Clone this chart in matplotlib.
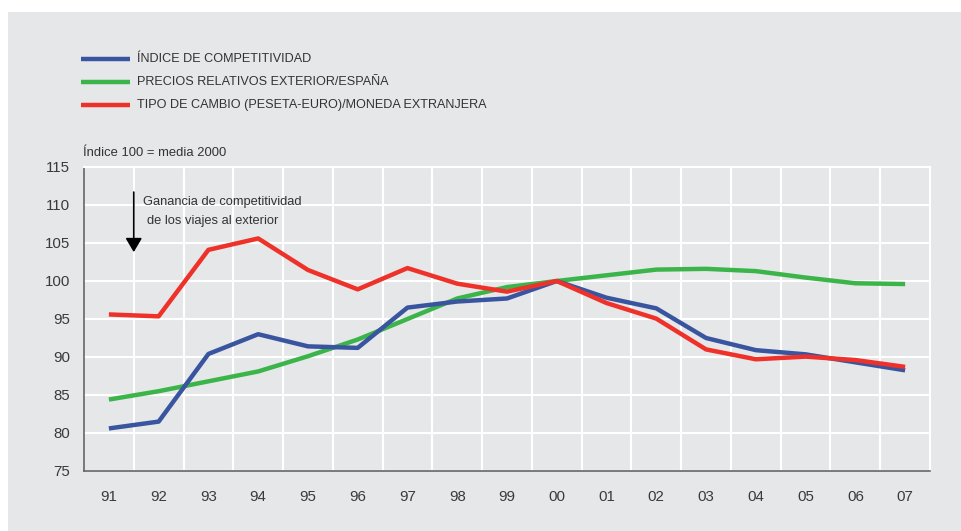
import matplotlib
matplotlib.use("Agg")
import matplotlib.pyplot as plt
from matplotlib.patches import Rectangle

plt.rcParams["font.family"] = ["Liberation Sans", "DejaVu Sans"]

# Data
years = ["91", "92", "93", "94", "95", "96", "97", "98", "99",
         "00", "01", "02", "03", "04", "05", "06", "07"]
competitividad = [80.6, 81.5, 90.4, 93.0, 91.4, 91.2, 96.5, 97.3, 97.7,
                  100.0, 97.8, 96.4, 92.5, 90.9, 90.35, 89.3, 88.25]
precios = [84.4, 85.5, 86.8, 88.1, 90.1, 92.3, 95.0, 97.7, 99.2,
           100.0, 100.75, 101.5, 101.6, 101.3, 100.45, 99.7, 99.6]
cambio = [95.6, 95.35, 104.1, 105.6, 101.45, 98.9, 101.7, 99.65, 98.6,
          100.0, 97.1, 95.05, 91.0, 89.7, 90.05, 89.6, 88.7]
labels = ["ÍNDICE DE COMPETITIVIDAD",
          "PRECIOS RELATIVOS EXTERIOR/ESPAÑA",
          "TIPO DE CAMBIO (PESETA-EURO)/MONEDA EXTRANJERA"]
colors = ["#3a55a0", "#3bb54a", "#ee3129"]

W, H = 961, 531
fig = plt.figure(figsize=(W/100, H/100), dpi=100)
fig.patches.append(Rectangle((8/W, 0), 1 - 8/W, 1 - 12/H, transform=fig.transFigure,
                             facecolor="#e6e7e9", edgecolor="none", zorder=-1))

ax = fig.add_axes([84/W, 1 - 471/H, (930 - 84)/W, (471 - 167)/H])
ax.set_facecolor("#e6e7e9")

x = list(range(len(years)))
series = [competitividad, precios, cambio]
# green underneath, then blue, red on top
for i in [1, 0, 2]:
    ax.plot(x, series[i], color=colors[i], lw=3.2, solid_capstyle="butt", zorder=3)

ax.set_xlim(-0.5, len(years) - 0.5)
ax.set_ylim(75, 115)
ax.set_yticks(range(75, 116, 5))
ax.set_xticks(x)
ax.set_xticklabels(years)
ax.set_xticks([i + 0.5 for i in x[:-1]], minor=True)
ax.grid(True, which="minor", axis="x", color="white", lw=1.5, zorder=1)
ax.grid(True, which="major", axis="y", color="white", lw=1.5, zorder=1)
ax.set_axisbelow(True)
ax.tick_params(which="both", length=0)
ax.tick_params(axis="x", pad=14, labelsize=10.8, colors="#3a3a3a")
ax.tick_params(axis="y", pad=10, labelsize=10.8, colors="#3a3a3a")
for side in ["top", "right"]:
    ax.spines[side].set_color("white")
    ax.spines[side].set_linewidth(1.5)
for side in ["left", "bottom"]:
    ax.spines[side].set_color("#666666")
    ax.spines[side].set_linewidth(1.2)

# Unit label
fig.text(83/W, 1 - 153/H, "Índice 100 = media 2000", fontsize=9.4, color="#333333", va="center")

# Arrow annotation
ax.annotate("", xy=(0.5, 103.8), xytext=(0.5, 111.7),
            arrowprops=dict(arrowstyle="-|>,head_width=0.5,head_length=0.85",
                            color="black", lw=1.2, shrinkA=0, shrinkB=0), zorder=4)
ax.text(0.68, 110.44, "Ganancia de competitividad", fontsize=9.3, color="#333333", va="center")
ax.text(0.76, 107.94, "de los viajes al exterior", fontsize=9.3, color="#333333", va="center")

# Legend
for i, (lab, c) in enumerate(zip(labels, colors)):
    yy = 1 - (59 + 23 * i)/H
    fig.add_artist(plt.Line2D([81/W, 130/W], [yy, yy], color=c, lw=3.2,
                              transform=fig.transFigure, solid_capstyle="butt"))
    fig.text(137/W, yy, lab, fontsize=9.1, color="#333333", va="center")

fig.savefig("out.png", dpi=100)
